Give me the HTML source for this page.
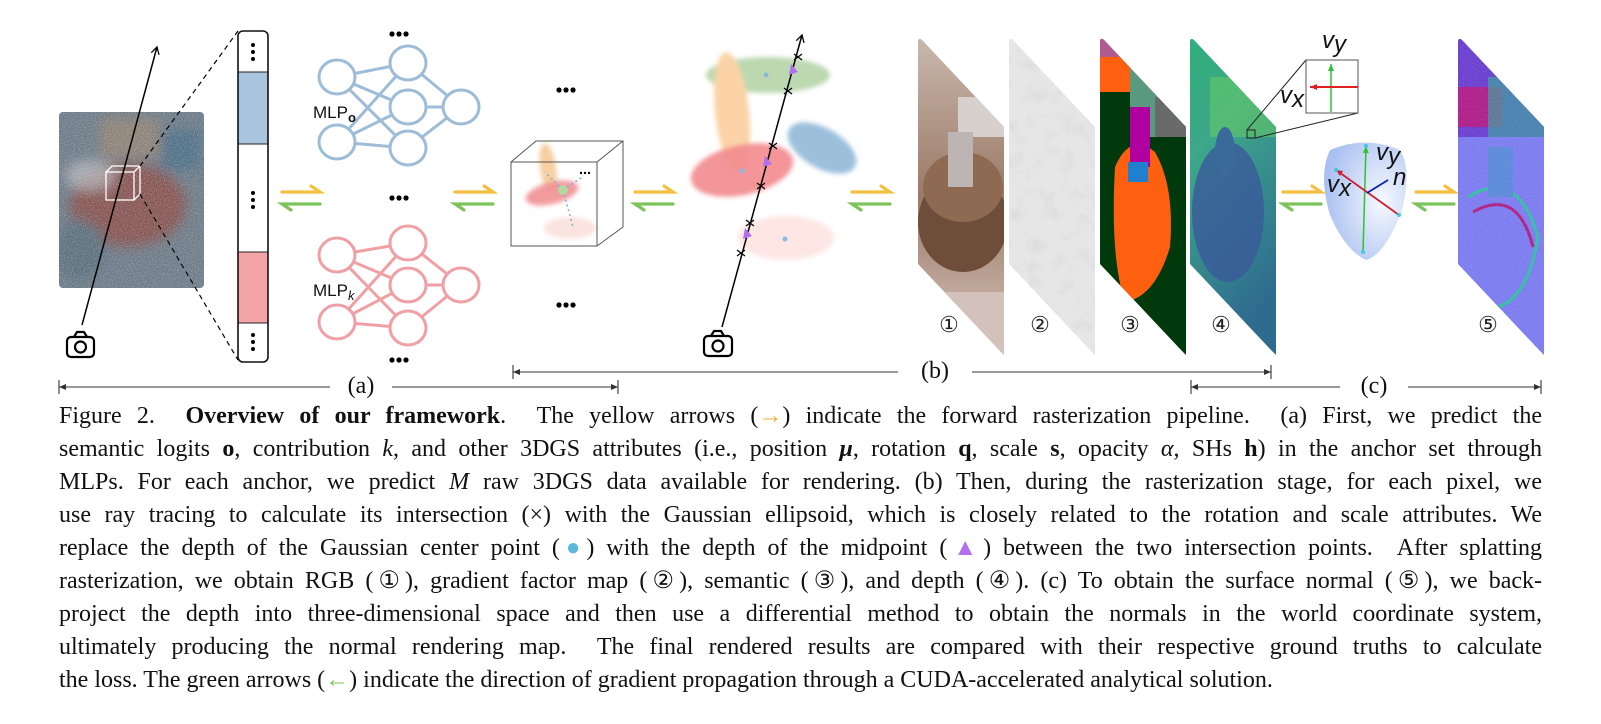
<!DOCTYPE html>
<html><head><meta charset="utf-8"><style>
body{margin:0;background:#fff;width:1601px;height:724px;overflow:hidden;position:relative}
svg{position:absolute;left:0;top:0}
svg text{letter-spacing:0}
.cap{position:absolute;left:59px;width:1483px;font-family:"Liberation Serif",serif;font-size:24px;color:#111;line-height:33px;top:400px}
.cap div{text-align:justify;text-align-last:justify;white-space:nowrap;height:33px}
.cap div.last{text-align-last:left}
</style></head><body>
<svg width="1601" height="400" viewBox="0 0 1601 400">
<defs>
<filter id="bl" x="-30%" y="-30%" width="160%" height="160%"><feGaussianBlur stdDeviation="2.5"/></filter>
<filter id="bl2"><feGaussianBlur stdDeviation="6"/></filter>
<filter id="noise"><feTurbulence type="fractalNoise" baseFrequency="0.9" numOctaves="2" seed="3"/><feColorMatrix type="matrix" values="0 0 0 0 1  0 0 0 0 1  0 0 0 0 1  0 0 0 1.6 -0.7"/></filter>
<filter id="noise2"><feTurbulence type="fractalNoise" baseFrequency="0.06" numOctaves="3" seed="5"/><feColorMatrix type="matrix" values="0 0 0 0 0.45  0 0 0 0 0.45  0 0 0 0 0.45  0 0 0 1 -0.5"/></filter>
<marker id="ah" markerWidth="10" markerHeight="10" refX="8" refY="5" orient="auto" markerUnits="userSpaceOnUse"><path d="M1,1 L8,5 L1,9" fill="none" stroke="#000" stroke-width="1.3"/></marker>
<marker id="ahs" markerWidth="8" markerHeight="8" refX="7" refY="4" orient="auto-start-reverse" markerUnits="userSpaceOnUse"><path d="M0,1 L7,4 L0,7 z" fill="#333"/></marker>
<marker id="ar" markerWidth="8" markerHeight="8" refX="7" refY="4" orient="auto" markerUnits="userSpaceOnUse"><path d="M0,1 L7,4 L0,7 z" fill="#e02020"/></marker>
<marker id="ag" markerWidth="8" markerHeight="8" refX="7" refY="4" orient="auto" markerUnits="userSpaceOnUse"><path d="M0,1 L7,4 L0,7 z" fill="#30c030"/></marker>
<clipPath id="pc"><path d="M0,5 Q0,0 4,3 L86,90 L86,318 L82,314 L0,227 z"/></clipPath>
<clipPath id="cc"><rect x="59" y="112" width="145" height="176" rx="4"/></clipPath>
<linearGradient id="g1" x1="0" y1="0" x2="0" y2="1"><stop offset="0" stop-color="#c9b8ae"/><stop offset=".5" stop-color="#9a7a66"/><stop offset="1" stop-color="#d9c7c0"/></linearGradient>
<linearGradient id="g4" x1="0" y1="0" x2="0.3" y2="1"><stop offset="0" stop-color="#2fae7c"/><stop offset=".35" stop-color="#3da88a"/><stop offset="1" stop-color="#2f6b8f"/></linearGradient>
<radialGradient id="gb" cx="0.7" cy="0.5" r="0.7"><stop offset="0" stop-color="#f6f9ff"/><stop offset="1" stop-color="#a9c0f0"/></radialGradient>
</defs>

<g clip-path="url(#cc)">
<rect x="59" y="112" width="145" height="176" fill="#6d7b88"/>
<g filter="url(#bl2)">
<rect x="100" y="118" width="60" height="40" fill="#9a8470" opacity=".7"/>
<ellipse cx="128" cy="205" rx="58" ry="42" fill="#8a4f4a" opacity=".85"/>
<ellipse cx="80" cy="250" rx="25" ry="30" fill="#5b6f7e"/>
<rect x="160" y="130" width="40" height="40" fill="#4f6f86"/>
<ellipse cx="90" cy="175" rx="25" ry="15" fill="#b8bcc2" opacity=".7"/>
</g>
<rect x="59" y="112" width="145" height="176" filter="url(#noise)" opacity=".55"/>
</g>
<rect x="106" y="172" width="28" height="28" fill="none" stroke="#fff" stroke-width="1.3"/>
<path d="M106,172 L112,166 L140,166 L140,194 L134,200 M134,172 L140,166" fill="none" stroke="#fff" stroke-width="1.3"/>
<line x1="82" y1="325" x2="157" y2="47" stroke="#000" stroke-width="1.5" marker-end="url(#ah)"/>
<g transform="translate(67,332)" fill="none" stroke="#000" stroke-width="2.2"><rect x="0" y="5" width="27" height="20" rx="4"/><path d="M7,5 L10,0 L17,0 L20,5"/><circle cx="13.5" cy="15" r="5.5"/></g>
<line x1="140" y1="166" x2="238" y2="31" stroke="#000" stroke-width="1.2" stroke-dasharray="5,4"/>
<line x1="140" y1="194" x2="238" y2="360" stroke="#000" stroke-width="1.2" stroke-dasharray="5,4"/>
<rect x="238" y="72" width="30" height="72" fill="#a8c4de"/>
<rect x="238" y="252" width="30" height="71" fill="#f4a4a6"/>
<line x1="238" y1="72" x2="268" y2="72" stroke="#222"/><line x1="238" y1="144" x2="268" y2="144" stroke="#222"/>
<line x1="238" y1="252" x2="268" y2="252" stroke="#222"/><line x1="238" y1="323" x2="268" y2="323" stroke="#222"/>
<rect x="238" y="31" width="30" height="331" rx="5" fill="none" stroke="#111" stroke-width="1.6"/>
<g fill="#000"><circle cx="253" cy="45" r="2"/><circle cx="253" cy="52" r="2"/><circle cx="253" cy="59" r="2"/>
<circle cx="253" cy="193" r="2"/><circle cx="253" cy="200" r="2"/><circle cx="253" cy="207" r="2"/>
<circle cx="253" cy="335" r="2"/><circle cx="253" cy="342" r="2"/><circle cx="253" cy="349" r="2"/></g>

<g stroke="#9dbcd8" stroke-width="3" fill="#fff">
<path d="M337,77 L408,63 M337,77 L408,107 M337,77 L408,148 M337,142 L408,63 M337,142 L408,107 M337,142 L408,148 M408,63 L461,107 M408,107 L461,107 M408,148 L461,107" fill="none"/>
<ellipse cx="337" cy="77" rx="18" ry="17"/><ellipse cx="337" cy="142" rx="18" ry="17"/>
<ellipse cx="408" cy="63" rx="18" ry="17"/><ellipse cx="408" cy="107" rx="18" ry="17"/><ellipse cx="408" cy="148" rx="18" ry="17"/>
<ellipse cx="461" cy="107" rx="18" ry="17"/>
</g>
<g stroke="#f0a0a4" stroke-width="3" fill="#fff">
<path d="M337,255 L408,243 M337,255 L408,285 M337,255 L408,328 M337,322 L408,243 M337,322 L408,285 M337,322 L408,328 M408,243 L461,285 M408,285 L461,285 M408,328 L461,285" fill="none"/>
<ellipse cx="337" cy="255" rx="18" ry="17"/><ellipse cx="337" cy="322" rx="18" ry="17"/>
<ellipse cx="408" cy="243" rx="18" ry="17"/><ellipse cx="408" cy="285" rx="18" ry="17"/><ellipse cx="408" cy="328" rx="18" ry="17"/>
<ellipse cx="461" cy="285" rx="18" ry="17"/>
</g>
<text x="313" y="118" font-family="Liberation Sans,sans-serif" font-size="17" fill="#111">MLP<tspan font-size="13" dy="4" font-weight="bold">o</tspan></text>
<text x="313" y="296" font-family="Liberation Sans,sans-serif" font-size="17" fill="#111">MLP<tspan font-size="13" dy="4" font-style="italic">k</tspan></text>
<g fill="#000">
<circle cx="392" cy="34" r="2.6"/><circle cx="399" cy="34" r="2.6"/><circle cx="406" cy="34" r="2.6"/>
<circle cx="392" cy="198" r="2.6"/><circle cx="399" cy="198" r="2.6"/><circle cx="406" cy="198" r="2.6"/>
<circle cx="392" cy="360" r="2.6"/><circle cx="399" cy="360" r="2.6"/><circle cx="406" cy="360" r="2.6"/>
<circle cx="559" cy="90" r="2.6"/><circle cx="566" cy="90" r="2.6"/><circle cx="573" cy="90" r="2.6"/>
<circle cx="559" cy="305" r="2.6"/><circle cx="566" cy="305" r="2.6"/><circle cx="573" cy="305" r="2.6"/>
</g>

<g stroke-width="3.2" fill="none" stroke-linecap="round">
<g id="pr">
<path d="M282,192 L320,192 L311,186" stroke="#f4c040"/>
<path d="M320,204 L282,204 L291,210" stroke="#7cc35a"/>
</g>
<use href="#pr" x="173"/><use href="#pr" x="353"/><use href="#pr" x="570"/><use href="#pr" x="1001"/><use href="#pr" x="1134"/>
</g>

<g filter="url(#bl)">
<ellipse cx="548" cy="168" rx="8" ry="25" fill="#f8cfa0" transform="rotate(-8 548 168)"/>
<ellipse cx="552" cy="193" rx="27" ry="11" fill="#f08a8e" opacity=".85" transform="rotate(-14 552 193)"/>
<ellipse cx="570" cy="228" rx="26" ry="11" fill="#fbe3e0"/>
</g>
<g stroke="#7ab0d4" stroke-width="1.5" stroke-dasharray="2,3" fill="none"><path d="M563,190 L573,227 M563,190 L545,172 M563,190 L584,176"/></g>
<circle cx="563" cy="190" r="5" fill="#b4d8a0"/>
<g fill="#000"><circle cx="581" cy="173" r="1.2"/><circle cx="585" cy="173" r="1.2"/><circle cx="589" cy="173" r="1.2"/></g>
<g fill="none" stroke="#555" stroke-width="1"><rect x="511" y="162" width="86" height="84"/><path d="M511,162 L536,141 L623,141 L623,227 L597,246 M597,162 L623,141"/></g>

<g filter="url(#bl)">
<ellipse cx="768" cy="75" rx="62" ry="18" fill="#bcd8b0"/>
<ellipse cx="732" cy="112" rx="17" ry="60" fill="#fbd3a6" transform="rotate(-6 732 112)"/>
<ellipse cx="822" cy="148" rx="38" ry="20" fill="#9cc0dc" transform="rotate(30 822 148)"/>
<ellipse cx="742" cy="170" rx="52" ry="25" fill="#f28a8e" opacity=".9" transform="rotate(-12 742 170)"/>
<ellipse cx="786" cy="238" rx="48" ry="22" fill="#fde6e4"/>
</g>
<g fill="#8cb8dc"><circle cx="766" cy="75" r="2.5"/><circle cx="742" cy="171" r="2.5"/><circle cx="785" cy="239" r="2.5"/></g>
<line x1="722" y1="327" x2="802" y2="35" stroke="#000" stroke-width="1.5" marker-end="url(#ah)"/>
<g fill="#b070f0"><path d="M791,64 l7,8 l-9,3z"/><path d="M765,156 l7,8 l-9,3z"/><path d="M745,228 l7,8 l-9,3z"/></g>
<g stroke="#000" stroke-width="1.2">
<path d="M794,54 l8,6 M802,54 l-8,6"/><path d="M784,88 l8,6 M792,88 l-8,6"/><path d="M769,143 l8,6 M777,143 l-8,6"/>
<path d="M757,183 l8,6 M765,183 l-8,6"/><path d="M746,220 l8,6 M754,220 l-8,6"/><path d="M737,250 l8,6 M745,250 l-8,6"/>
</g>
<g transform="translate(704,331)" fill="none" stroke="#000" stroke-width="2.2"><rect x="0" y="5" width="28" height="20" rx="4"/><path d="M7,5 L10,0 L17,0 L20,5"/><circle cx="14" cy="15" r="5.5"/></g>

<g transform="translate(918,37)" clip-path="url(#pc)">
<rect width="86" height="320" fill="url(#g1)"/>
<ellipse cx="45" cy="185" rx="45" ry="50" fill="#6e4e3a"/>
<ellipse cx="45" cy="150" rx="40" ry="35" fill="#8f6a52"/>
<rect x="40" y="60" width="46" height="40" fill="#d8d0cc"/>
<rect x="30" y="95" width="25" height="55" fill="#bdb5b3"/>
<rect x="0" y="255" width="86" height="70" fill="#d3c2bb"/>
</g>
<g transform="translate(1009,37)" clip-path="url(#pc)">
<rect width="86" height="320" fill="#e6e6e6"/>
<rect width="86" height="320" filter="url(#noise2)" opacity=".45"/>
</g>
<g transform="translate(1100,37)" clip-path="url(#pc)">
<rect width="86" height="320" fill="#003a0c"/>
<rect x="0" y="0" width="86" height="55" fill="#ff6010"/>
<rect x="0" y="0" width="30" height="20" fill="#b05a90"/>
<rect x="30" y="30" width="56" height="70" fill="#5a9a80"/>
<rect x="55" y="60" width="31" height="40" fill="#6a6a6a"/>
<path d="M15,130 Q30,95 55,115 Q75,150 70,210 Q55,260 25,265 Q10,220 15,130z" fill="#ff6010"/>
<rect x="30" y="70" width="20" height="60" fill="#b000a0"/>
<rect x="28" y="125" width="20" height="20" fill="#2080d0"/>
</g>
<g transform="translate(1190,37)" clip-path="url(#pc)">
<rect width="86" height="320" fill="url(#g4)"/>
<rect x="20" y="40" width="66" height="60" fill="#6cd060" opacity=".5"/>
<ellipse cx="38" cy="175" rx="36" ry="70" fill="#3a5a9a" opacity=".8"/>
<ellipse cx="35" cy="115" rx="10" ry="25" fill="#3a6a9a"/>
</g>
<g transform="translate(1458,37)" clip-path="url(#pc)">
<rect width="86" height="320" fill="#7c7cf0"/>
<rect x="0" y="0" width="86" height="100" fill="#6a40d0"/>
<rect x="0" y="50" width="45" height="40" fill="#b0208a"/>
<rect x="30" y="40" width="56" height="60" fill="#3aa0a0" opacity=".7"/>
<path d="M10,160 Q60,130 80,200 Q70,260 40,270" fill="none" stroke="#30c0a0" stroke-width="3"/>
<path d="M15,175 Q60,150 75,210" fill="none" stroke="#b02080" stroke-width="3"/>
<rect x="30" y="110" width="25" height="50" fill="#5a8ad8"/>
<rect width="86" height="320" filter="url(#noise)" opacity=".25"/>
</g>
<g font-family="Liberation Serif,serif" font-size="22" fill="#222" text-anchor="middle">
<text x="949" y="332">①</text><text x="1040" y="332">②</text><text x="1130" y="332">③</text><text x="1221" y="332">④</text><text x="1488" y="332">⑤</text></g>

<rect x="1247" y="130" width="8" height="8" fill="none" stroke="#222"/>
<line x1="1306" y1="60" x2="1247" y2="130" stroke="#222"/>
<line x1="1358" y1="113" x2="1255" y2="138" stroke="#222"/>
<rect x="1306" y="60" width="52" height="53" fill="#fff" stroke="#555"/>
<line x1="1331" y1="112" x2="1331" y2="64" stroke="#30c030" stroke-width="1.5" marker-end="url(#ag)"/>
<line x1="1358" y1="87" x2="1310" y2="87" stroke="#e02020" stroke-width="2" marker-end="url(#ar)"/>
<g font-family="Liberation Sans,sans-serif" font-style="italic" font-size="24" fill="#111">
<text x="1322" y="48">v<tspan dy="4">y</tspan></text>
<text x="1280" y="103">v<tspan dy="4">x</tspan></text>
</g>
<path d="M1330,150 Q1365,135 1400,150 Q1412,170 1402,210 Q1385,255 1366,260 Q1345,250 1330,215 Q1318,175 1330,150z" fill="url(#gb)"/>
<line x1="1363" y1="252" x2="1366" y2="146" stroke="#30c030" stroke-width="1.5" marker-end="url(#ag)"/>
<line x1="1399" y1="215" x2="1336" y2="170" stroke="#d02030" stroke-width="1.8"/>
<path d="M1336,170 l7,1 l-3,5z" fill="#d02030"/>
<line x1="1367" y1="193" x2="1388" y2="180" stroke="#1020c0" stroke-width="1.8"/>
<g fill="#40c8d8"><circle cx="1366" cy="146" r="2"/><circle cx="1363" cy="252" r="2"/><circle cx="1399" cy="215" r="2"/><circle cx="1336" cy="170" r="2"/></g>
<g font-family="Liberation Sans,sans-serif" font-style="italic" font-size="24" fill="#111">
<text x="1376" y="160">v<tspan dy="4">y</tspan></text>
<text x="1327" y="192">v<tspan dy="4">x</tspan></text>
<text x="1393" y="185">n</text>
</g>

<g stroke="#333" stroke-width="1.1" fill="none">
<line x1="59" y1="387" x2="330" y2="387" marker-start="url(#ahs)"/>
<line x1="392" y1="387" x2="618" y2="387" marker-end="url(#ahs)"/>
<line x1="59" y1="380" x2="59" y2="394"/><line x1="618" y1="380" x2="618" y2="394"/>
<line x1="513" y1="372" x2="898" y2="372" marker-start="url(#ahs)"/>
<line x1="972" y1="372" x2="1271" y2="372" marker-end="url(#ahs)"/>
<line x1="513" y1="365" x2="513" y2="379"/><line x1="1271" y1="365" x2="1271" y2="379"/>
<line x1="1191" y1="387" x2="1340" y2="387" marker-start="url(#ahs)"/>
<line x1="1408" y1="387" x2="1541" y2="387" marker-end="url(#ahs)"/>
<line x1="1191" y1="380" x2="1191" y2="394"/><line x1="1541" y1="380" x2="1541" y2="394"/>
</g>
<g font-family="Liberation Serif,serif" font-size="24" fill="#111" text-anchor="middle">
<text x="361" y="393">(a)</text><text x="935" y="378">(b)</text><text x="1374" y="393">(c)</text></g>
</svg>
<div class="cap">
<div>Figure 2. &nbsp;<b>Overview of our framework</b>. &nbsp;The yellow arrows (<span style="color:#f0b030">→</span>) indicate the forward rasterization pipeline. &nbsp;(a) First, we predict the</div>
<div>semantic logits <b>o</b>, contribution <i>k</i>, and other 3DGS attributes (i.e., position <b><i>μ</i></b>, rotation <b>q</b>, scale <b>s</b>, opacity <i>α</i>, SHs <b>h</b>) in the anchor set through</div>
<div>MLPs. For each anchor, we predict <i>M</i> raw 3DGS data available for rendering. (b) Then, during the rasterization stage, for each pixel, we</div>
<div>use ray tracing to calculate its intersection (×) with the Gaussian ellipsoid, which is closely related to the rotation and scale attributes. We</div>
<div>replace the depth of the Gaussian center point (<span style="color:#5ab8d8">●</span>) with the depth of the midpoint (<span style="color:#b070f0">▲</span>) between the two intersection points. &nbsp;After splatting</div>
<div>rasterization, we obtain RGB (①), gradient factor map (②), semantic (③), and depth (④). (c) To obtain the surface normal (⑤), we back-</div>
<div>project the depth into three-dimensional space and then use a differential method to obtain the normals in the world coordinate system,</div>
<div>ultimately producing the normal rendering map. &nbsp;The final rendered results are compared with their respective ground truths to calculate</div>
<div class="last">the loss. The green arrows (<span style="color:#7cc35a">←</span>) indicate the direction of gradient propagation through a CUDA-accelerated analytical solution.</div>
</div>
</body></html>
